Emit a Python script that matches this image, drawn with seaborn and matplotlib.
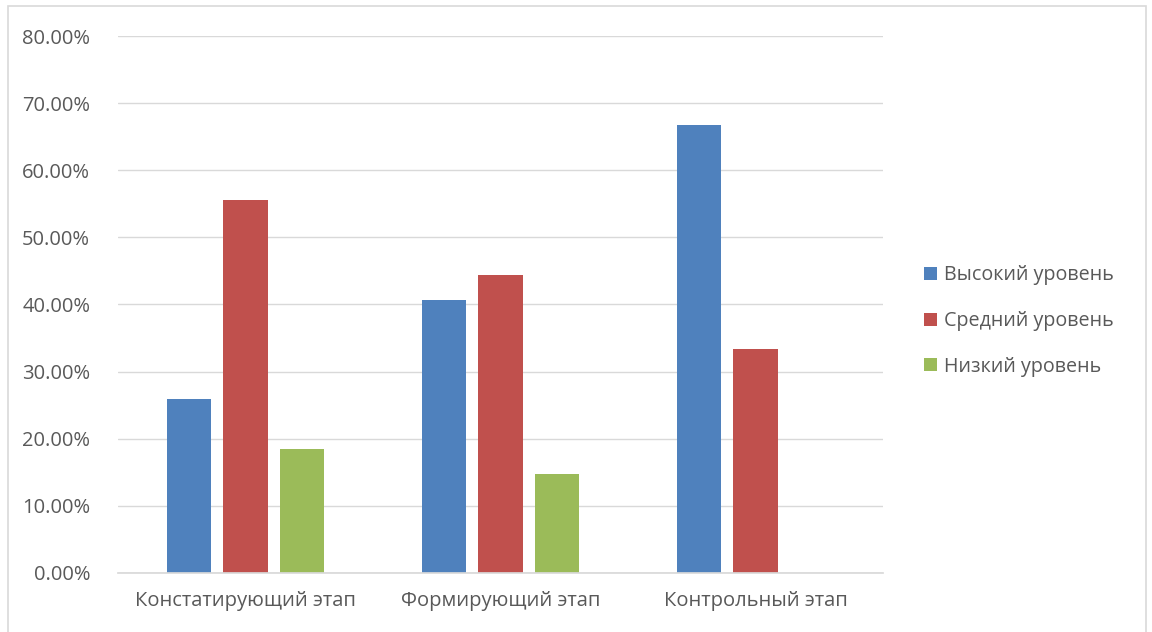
import pandas as pd
import seaborn as sns
import matplotlib.pyplot as plt
from matplotlib.patches import Rectangle
from matplotlib.ticker import PercentFormatter

stages = ["Констатирующий этап", "Формирующий этап", "Контрольный этап"]
levels = ["Высокий уровень", "Средний уровень", "Низкий уровень"]
high = [25.93, 40.74, 66.67]
mid = [55.56, 44.44, 33.33]
low = [18.52, 14.81, 0.0]

colors = {"Высокий уровень": "#4f81bd", "Средний уровень": "#c0504d", "Низкий уровень": "#9bbb59"}

df = pd.DataFrame(
    {
        "stage": stages * 3,
        "value": high + mid + low,
        "level": [levels[0]] * 3 + [levels[1]] * 3 + [levels[2]] * 3,
    }
)

sns.set_theme(style="white")
plt.rcParams["font.family"] = ["Open Sans", "DejaVu Sans"]

fig = plt.figure(figsize=(11.52, 6.32), dpi=100)
ax = fig.add_axes([0.1024, 0.0934, 0.664, 0.8496])

sns.barplot(
    data=df,
    x="stage",
    y="value",
    hue="level",
    palette=colors,
    saturation=1,
    width=0.667,
    gap=0.22,
    linewidth=0,
    ax=ax,
    legend=True,
)

ax.set_ylim(0, 80)
ax.set_yticks(range(0, 81, 10))
ax.yaxis.set_major_formatter(PercentFormatter(decimals=2))
ax.yaxis.grid(True, color="#d9d9d9", linewidth=1)
ax.set_axisbelow(True)
ax.set_xlabel("")
ax.set_ylabel("")
for s in ["top", "right", "left"]:
    ax.spines[s].set_visible(False)
ax.spines["bottom"].set_color("#d9d9d9")
ax.tick_params(axis="both", length=0, labelsize=14.5, colors="#595959")
ax.tick_params(axis="x", pad=13)
ax.tick_params(axis="y", pad=20)

handles, labels = ax.get_legend_handles_labels()
ax.get_legend().remove()
fig.legend(
    handles,
    labels,
    loc="center left",
    bbox_to_anchor=(0.787, 0.492),
    frameon=False,
    fontsize=14.2,
    labelcolor="#595959",
    handlelength=0.65,
    handleheight=0.65,
    handletextpad=0.35,
    labelspacing=1.3,
)

fig.patches.append(
    Rectangle((0.007, -0.01), 0.988, 1.0, transform=fig.transFigure,
              fill=False, edgecolor="#d9d9d9", linewidth=1.2)
)

fig.savefig("out.png", dpi=100)
